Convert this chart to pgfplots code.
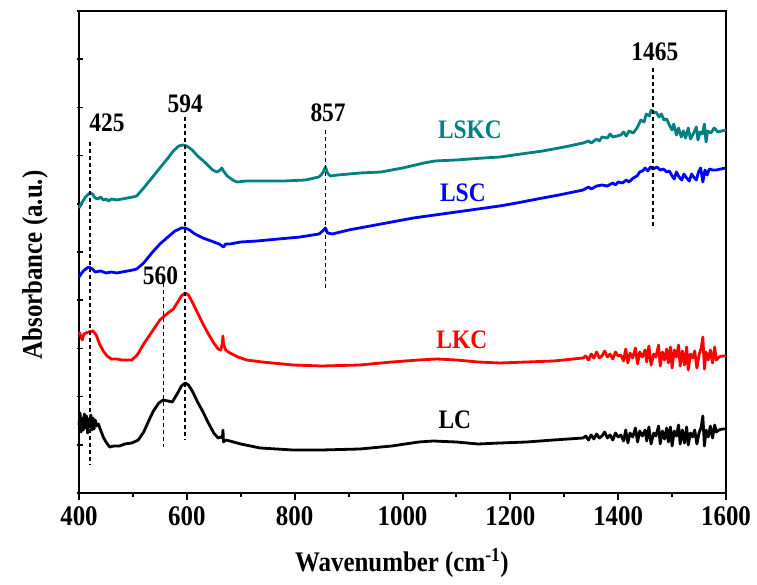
\documentclass[border=0pt]{standalone}
\usepackage{fontspec}
\setmainfont{Liberation Serif}
\usepackage{graphicx}
\usepackage{pgfplots}
\pgfplotsset{compat=1.18}
\definecolor{tealc}{RGB}{0,128,128}
\definecolor{bluec}{RGB}{0,0,255}
\definecolor{redc}{RGB}{255,0,0}
\newcommand{\vs}[1]{\scalebox{1}[1.14]{#1}}
\newcommand{\lbl}{\fontsize{23.5}{27}\selectfont\bfseries}
\begin{document}
\begin{tikzpicture}
\begin{axis}[
  at={(0,0)}, anchor=south west,
  scale only axis, width=647bp, height=482bp,
  xmin=400, xmax=1600, ymin=0, ymax=482,
  axis line style={line width=2.8bp},
  tick align=outside, xtick pos=bottom, ytick pos=left,
  xtick={400,600,800,1000,1200,1400,1600},
  xticklabels={\vs{400},\vs{600},\vs{800},\vs{1000},\vs{1200},\vs{1400},\vs{1600}},
  minor xtick={500,700,900,1100,1300,1500},
  ytick={0,48.2,96.4,144.6,192.8,241,289.2,337.4,385.6,433.8,482},
  yticklabels={},
  major tick length=7bp, minor tick length=4bp,
  every tick/.style={line width=2bp, black},
  y tick style={xshift=4.5bp, line width=1.5bp},
  xticklabel style={font=\fontsize{25}{30}\selectfont\bfseries, yshift=-3bp},
  clip=false,
  every axis plot/.append style={line join=round},
]
% LC
\addplot[black, line width=2.8bp] coordinates {
(400,68)(402,80)(404,61)(406,75)(408,63)(410,79)(412,65)(414,77)(416,60)(418,74)
(420,66)(422,78)(424,63)(426,75)(428,64)(430,73)(433,67)(436,69)(440,63)(445,56)
(450,51)(457,46)(465,47)(475,47)(485,49)(498,50)(510,53)(520,61)(530,73)(538,82)
(548,90)(556,93)(565,92)(573,91)(582,99)(590,107)(597,110)(603,108)(610,102)(620,91)
(630,81)(640,70)(650,60)(658,55)(663,56)(666,55)(667,63)(668,51)(672,53)(680,52)
(700,49)(736,45)(797,43)(850,43)(921,44)(980,47)(1030,51)(1057,52)(1100,51)(1140,49)
(1181,50)(1230,51)(1280,53)(1335,55)(1340,57)(1345,53)(1350,58)(1355,54)(1360,59)(1365,55)
(1370,57)(1375,61)(1380,55)(1385,58)(1390,53)(1395,60)(1400,56)(1405,58)(1410,52)(1414,63)
(1418,50)(1422,60)(1427,56)(1432,65)(1436,51)(1440,62)(1445,57)(1450,63)(1453,52)(1457,66)
(1461,49)(1466,60)(1470,57)(1475,67)(1478,49)(1482,62)(1486,54)(1490,65)(1493,51)(1497,66)
(1500,47)(1504,62)(1508,57)(1512,68)(1515,49)(1519,63)(1523,50)(1527,66)(1530,48)(1534,60)
(1538,56)(1542,63)(1546,49)(1550,60)(1554,66)(1557,77)(1560,47)(1563,63)(1567,56)(1571,67)
(1575,55)(1579,68)(1582,61)(1587,63)(1593,64)(1600,64)
};
% LKC
\addplot[redc, line width=2.8bp] coordinates {
(400,161)(403,157)(406,153)(409,159)(413,160)(418,161)(426,162)(432,158)(438,149)(445,142)
(452,137)(460,134)(470,134)(480,133)(490,133)(498,133)(508,138)(520,149)(535,161)(550,173)
(565,180)(575,184)(582,190)(590,197)(597,200)(603,198)(610,191)(620,180)(630,169)(640,159)
(650,150)(658,144)(663,143)(666,150)(667,157)(668,149)(672,143)(680,140)(695,136)(711,133)
(740,131)(797,128)(850,127)(921,128)(980,131)(1030,133)(1064,134)(1100,133)(1140,131)(1181,130)
(1230,131)(1280,132)(1335,135)(1340,137)(1345,133)(1350,139)(1355,135)(1360,141)(1365,135)(1370,137)
(1375,142)(1380,136)(1385,139)(1390,134)(1395,141)(1400,137)(1405,138)(1410,132)(1414,144)(1418,130)
(1422,140)(1427,135)(1432,145)(1436,129)(1440,141)(1445,136)(1450,143)(1453,131)(1457,147)(1461,128)
(1466,139)(1470,136)(1475,148)(1478,127)(1482,141)(1486,133)(1490,144)(1493,130)(1497,146)(1500,125)
(1504,143)(1508,136)(1512,148)(1515,127)(1519,142)(1523,128)(1527,146)(1530,123)(1534,139)(1538,135)
(1542,142)(1546,125)(1550,138)(1554,145)(1557,156)(1560,124)(1563,141)(1567,133)(1571,143)(1575,130)
(1579,146)(1582,133)(1587,136)(1593,137)(1600,137)
};
% LSC
\addplot[bluec, line width=2.8bp] coordinates {
(400,216)(405,220)(410,223)(418,226)(425,224)(430,221)(440,222)(450,220)(460,221)(470,220)
(480,221)(490,222)(500,223)(507,224)(520,230)(535,240)(550,249)(565,256)(578,262)(590,265)
(597,265)(605,263)(615,259)(630,255)(645,252)(660,249)(668,246)(672,249)(680,249)(700,251)
(730,252)(770,254)(810,256)(845,259)(852,262)(857,265)(861,260)(870,259)(900,263)(940,267)
(980,271)(1020,275)(1060,278)(1100,281)(1140,284)(1180,287)(1212,290)(1250,294)(1290,298)(1335,303)
(1345,306)(1350,304)(1360,307)(1370,308)(1380,307)(1390,310)(1395,308)(1400,311)(1408,310)(1415,313)
(1420,311)(1428,315)(1435,317)(1440,321)(1445,322)(1450,325)(1455,322)(1460,326)(1465,324)(1472,326)
(1478,323)(1484,324)(1490,321)(1495,322)(1500,317)(1504,314)(1508,321)(1513,316)(1518,313)(1522,319)
(1527,315)(1532,312)(1536,319)(1540,316)(1545,313)(1549,321)(1553,325)(1557,311)(1561,323)(1565,318)
(1569,324)(1575,323)(1582,323)(1590,324)(1600,325)
};
% LSKC
\addplot[tealc, line width=2.8bp] coordinates {
(400,285)(405,290)(412,296)(420,300)(425,299)(430,295)(435,294)(440,296)(445,293)(450,294)
(455,292)(460,294)(470,293)(480,294)(490,295)(500,296)(507,297)(520,305)(535,315)(550,325)
(565,335)(575,342)(585,347)(593,348)(600,347)(610,343)(620,337)(635,330)(648,323)(656,321)
(662,323)(665,325)(668,322)(675,317)(685,313)(693,311)(710,312)(740,312)(780,312)(820,313)
(845,316)(852,320)(857,326)(861,320)(866,317)(880,318)(921,320)(960,321)(1000,325)(1040,330)
(1060,332)(1100,333)(1150,335)(1181,336)(1220,339)(1260,342)(1300,346)(1335,350)(1345,352)(1350,350)
(1360,354)(1365,352)(1370,356)(1380,355)(1385,359)(1390,356)(1398,357)(1405,358)(1410,361)(1415,357)
(1420,362)(1428,360)(1435,365)(1442,373)(1448,371)(1452,379)(1458,377)(1461,383)(1465,380)(1470,381)
(1476,376)(1480,379)(1485,373)(1490,374)(1495,368)(1500,363)(1503,369)(1508,358)(1512,365)(1517,356)
(1521,362)(1525,355)(1530,365)(1534,354)(1540,360)(1545,366)(1548,353)(1552,361)(1556,359)(1560,369)
(1563,351)(1566,362)(1572,360)(1578,365)(1585,361)(1592,362)(1600,363)
};
% dashed marker lines
\addplot[black, line width=1.6bp, dash pattern=on 4bp off 3bp] coordinates {(420,351)(420,28)};
\addplot[black, line width=1.6bp, dash pattern=on 4bp off 3bp] coordinates {(597,376)(597,53)};
\addplot[black, line width=1.6bp, dash pattern=on 4bp off 3bp] coordinates {(857,363)(857,205)};
\addplot[black, line width=1.6bp, dash pattern=on 4bp off 3bp] coordinates {(1465,425)(1465,265)};
\addplot[black, line width=1.6bp, dash pattern=on 4bp off 3bp] coordinates {(557,210)(557,46)};
% peak labels
\node[font=\lbl] at (axis cs:452,370) {\vs{425}};
\node[font=\lbl] at (axis cs:597,389) {\vs{594}};
\node[font=\lbl] at (axis cs:862,380) {\vs{857}};
\node[font=\lbl] at (axis cs:1468,441) {\vs{1465}};
\node[font=\lbl] at (axis cs:551,217) {\vs{560}};
% series labels
\node[font=\lbl, text=tealc] at (axis cs:1125,363) {\vs{LSKC}};
\node[font=\lbl, text=bluec] at (axis cs:1112,300) {\vs{LSC}};
\node[font=\lbl, text=redc] at (axis cs:1110,153) {\vs{LKC}};
\node[font=\lbl, text=black] at (axis cs:1097,73) {\vs{LC}};
% axis labels
\node[font=\fontsize{25}{30}\selectfont\bfseries, rotate=90] at (axis description cs:-0.068,0.473) {\vs{Absorbance (a.u.)}};
\node[font=\fontsize{25}{30}\selectfont\bfseries] at (axis description cs:0.499,-0.145) {\vs{Wavenumber (cm\textsuperscript{-1})}};
\end{axis}
\pgfresetboundingbox
\useasboundingbox (-79bp,-92bp) rectangle (678bp,493bp);
\end{tikzpicture}
\end{document}
